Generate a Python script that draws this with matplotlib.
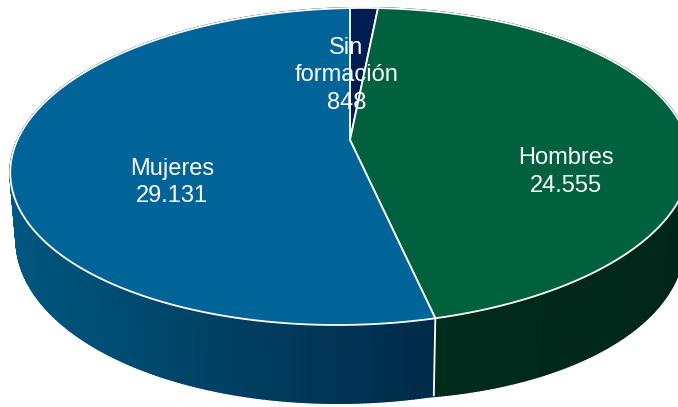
import numpy as np
import matplotlib
matplotlib.use("Agg")
import matplotlib.pyplot as plt
from matplotlib.patches import Polygon
from matplotlib.collections import PolyCollection
from matplotlib.colors import to_rgb

# ---- data ----
categories = ["Sin formación", "Hombres", "Mujeres"]
values = [848, 24555, 29131]

# ---- style ----
top_colors = ["#001E50", "#00613F", "#006499"]
wall_colors = [("#001A45", "#001A45"), ("#002C1C", "#00261A"), ("#00577F", "#002A48")]
label_radius = [0.70, 0.65, 0.53]
label_nudge = [(-14, 0), (0, 7), (0, -5)]

W, Hpx = 678, 407
fig = plt.figure(figsize=(W / 100, Hpx / 100), dpi=100)
ax = fig.add_axes([0, 0, 1, 1])
ax.set_xlim(0, W)
ax.set_ylim(Hpx, 0)
ax.axis("off")

# projection of the 3D disc (pixel space)
CX, CY = 350.0, 140.0
A, B = 335.0, 154.0
P = 0.167
S = -6.0
KX = 0.982
DEPTH = 65.0
Q = 20.0


def proj(r, theta_deg, z):
    t = np.radians(theta_deg)
    u = r * np.sin(t)
    v = r * np.cos(t)
    w = 1 + P * v
    shrink = 1 - (1 - KX) * z
    x = CX + A * u / w * shrink
    y = CY + (-B * v + S * u) / w + z * (DEPTH + Q * np.maximum(u - 0.2, 0)) / w
    return x, y


total = float(sum(values))
bounds = np.concatenate([[0.0], np.cumsum(values) / total * 360.0])

# walls: thin quads between top rim and bottom rim
for i in range(len(values)):
    a, b = bounds[i], bounds[i + 1]
    th = np.linspace(a, b, max(int((b - a) * 2), 4))
    xt, yt = proj(1.0, th, 0.0)
    xb, yb = proj(1.0, th, 1.0)
    front = np.cos(np.radians(th)) < 0.3
    xs_vis = xt[front] if front.any() else xt
    x0, x1 = xs_vis.min(), xs_vis.max()
    c0, c1 = np.array(to_rgb(wall_colors[i][0])), np.array(to_rgb(wall_colors[i][1]))
    quads, cols = [], []
    for j in range(len(th) - 1):
        quads.append([(xt[j], yt[j]), (xt[j + 1], yt[j + 1]),
                      (xb[j + 1], yb[j + 1]), (xb[j], yb[j])])
        xm = (xt[j] + xt[j + 1]) / 2
        f = np.clip((xm - x0) / max(x1 - x0, 1e-6), 0, 1)
        cols.append(c0 * (1 - f) + c1 * f)
    pc = PolyCollection(quads, facecolors=cols, edgecolors=cols,
                        linewidths=1.4, zorder=1)
    ax.add_collection(pc)

# white vertical edges on the wall at slice boundaries
for bd in bounds[:-1]:
    xt, yt = proj(1.0, bd, 0.0)
    xb, yb = proj(1.0, bd, 1.0)
    ax.plot([xt, xb], [yt, yb], color="white", lw=1.3, zorder=1.5,
            solid_capstyle="butt")

# tops
for i in range(len(values)):
    a, b = bounds[i], bounds[i + 1]
    th = np.linspace(a, b, max(int((b - a) * 2), 4))
    xt, yt = proj(1.0, th, 0.0)
    pts = np.column_stack([np.concatenate([[CX], xt]), np.concatenate([[CY], yt])])
    ax.add_patch(Polygon(pts, closed=True, facecolor=top_colors[i],
                         edgecolor="white", linewidth=1.3, zorder=2))

ax.set_xlim(0, W)
ax.set_ylim(Hpx, 0)

# labels
LINE = 27.5
CAP = 8.5
for i, (name, val) in enumerate(zip(categories, values)):
    mid = (bounds[i] + bounds[i + 1]) / 2
    t = np.radians(mid)
    lx, ly = proj(label_radius[i], mid, 0.0)
    ly += DEPTH / 2 / (1 + P * label_radius[i] * np.cos(t))
    lx += label_nudge[i][0]
    ly += label_nudge[i][1]
    lines = name.split(" ") + [f"{val:,}".replace(",", ".")]
    n = len(lines)
    for k, s in enumerate(lines):
        yb = ly + (k - (n - 1) / 2) * LINE + CAP
        ax.text(lx, yb, s, ha="center", va="baseline", color="white",
                fontsize=17, family=["Liberation Sans", "DejaVu Sans"], zorder=5)

fig.savefig("out.png", dpi=100, facecolor="white")
